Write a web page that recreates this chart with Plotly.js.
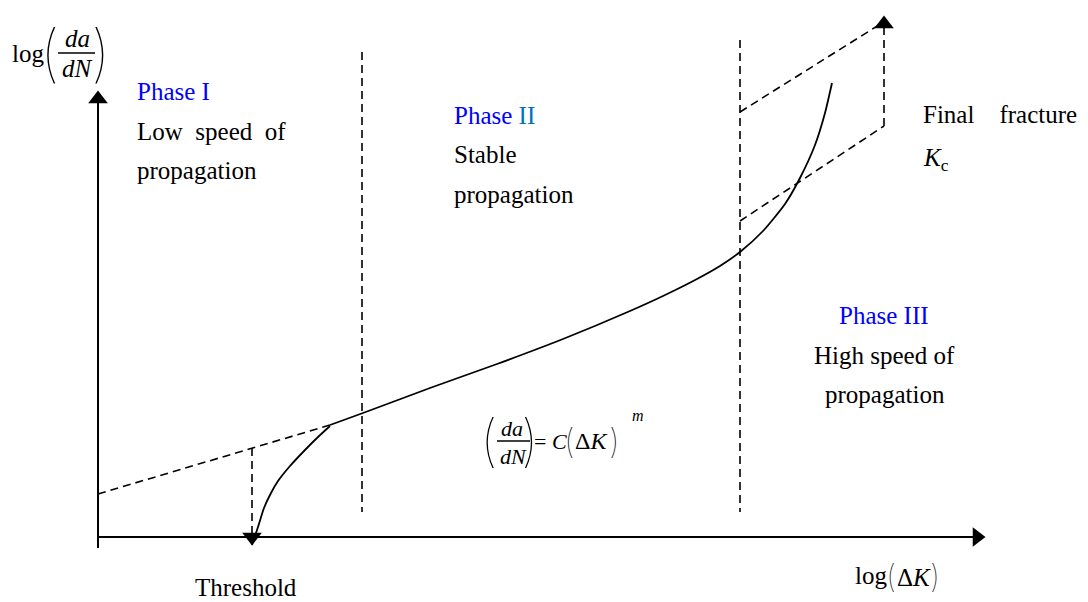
<!DOCTYPE html>
<html>
<head>
<meta charset="utf-8">
<script src="https://cdn.plot.ly/plotly-3.0.1.min.js"></script>
<style>
  html, body { margin: 0; padding: 0; background: #fff; }
  #myPlot { width: 1088px; height: 602px; }
</style>
</head>
<body>
<div id="myPlot"></div>
<script>
// diagram units: x to the right, y downwards (same scale as the picture)
const phase1X = [252, 258, 264, 271, 278, 290, 305, 318, 330];
const phase1Y = [545, 527, 508, 493, 481, 466, 450, 437, 426];

const curveX = [330, 363, 430, 497, 563, 630, 663, 697, 720, 740, 763, 785, 800, 815, 825, 832];
const curveY = [425, 413, 388, 364, 339, 311, 296, 279, 266, 252, 231, 204, 178, 145, 113, 83];

const extendX = [98, 330];
const extendY = [494, 425];

const thresholdX = [252, 252];
const thresholdY = [448, 535];

const border1X = [362, 362];
const border1Y = [52, 512];
const border2X = [740, 740];
const border2Y = [40, 512];

const kcTopX = [740, 882];
const kcTopY = [112, 23];
const kcSideX = [884, 884];
const kcSideY = [126, 27];
const kcLowX = [740, 884];
const kcLowY = [221, 126];

const yAxisX = [98, 98];
const yAxisY = [548, 102];
const xAxisX = [98, 974];
const xAxisY = [537, 537];

const arrowX = [98, 977, 252, 884];
const arrowY = [99, 537, 537, 24];
const arrowSym = ["triangle-up", "triangle-right", "triangle-down", "triangle-up"];

const serif = "Liberation Serif, Times New Roman, serif";
const thin = "Inter, Lato, Noto Sans, sans-serif";
const dash = "8px,5px";

function line(x, y, opts) {
  return {
    x: x, y: y, type: "scatter", mode: "lines", hoverinfo: "skip",
    line: {color: "black", width: opts.width || 2, dash: opts.dash || "solid",
           shape: opts.shape || "linear", smoothing: 0.6}
  };
}

const data = [
  line(yAxisX, yAxisY, {width: 2}),
  line(xAxisX, xAxisY, {width: 2}),
  line(extendX, extendY, {width: 1.6, dash: dash}),
  line(thresholdX, thresholdY, {width: 1.6, dash: dash}),
  line(border1X, border1Y, {width: 1.6, dash: dash}),
  line(border2X, border2Y, {width: 1.6, dash: dash}),
  line(kcTopX, kcTopY, {width: 1.6, dash: dash}),
  line(kcSideX, kcSideY, {width: 1.6, dash: dash}),
  line(kcLowX, kcLowY, {width: 1.6, dash: dash}),
  line(phase1X, phase1Y, {width: 1.8, shape: "spline"}),
  line(curveX, curveY, {width: 1.8, shape: "spline"}),
  {
    x: arrowX, y: arrowY, type: "scatter", mode: "markers", hoverinfo: "skip",
    marker: {symbol: arrowSym, size: 17, color: "black", line: {width: 0}}
  }
];

function txt(text, x, y, opts) {
  opts = opts || {};
  return {
    text: text, x: x, y: y, xref: "x", yref: "y", showarrow: false,
    xanchor: opts.xanchor || "left", yanchor: "middle", borderpad: 0,
    font: {family: opts.family || serif, size: opts.size || 25,
           color: opts.color || "black", weight: opts.weight || "normal"}
  };
}

// tall thin brackets
function paren(ch, x, y, size) {
  return txt(ch, x, y, {xanchor: "center", size: size, family: thin, weight: 100});
}

const blue = "#0000FF";

const annotations = [
  // y axis label log(da/dN)
  txt("log", 11, 53),
  paren("(", 50, 52, 62),
  txt("<i>da</i>", 77, 38, {xanchor: "center"}),
  txt("<i>dN</i>", 77, 68, {xanchor: "center"}),
  paren(")", 101, 52, 62),

  txt("Phase I", 136, 91, {color: blue}),
  txt("Low\u00a0\u00a0speed\u00a0\u00a0of", 136, 131),
  txt("propagation", 136, 170),

  txt("Phase <span style='color:#0070C0'>II</span>", 453, 115, {color: blue}),
  txt("Stable", 453, 154),
  txt("propagation", 453, 194),

  txt("Final\u00a0\u00a0\u00a0\u00a0fracture", 922, 114),
  txt("<i>K</i><sub>c</sub>", 922, 159),

  txt("Phase III", 884, 315, {xanchor: "center", color: blue}),
  txt("High speed of", 884, 355, {xanchor: "center"}),
  txt("propagation", 885, 394, {xanchor: "center"}),

  // Paris law
  paren("(", 489, 440, 56),
  txt("<i>da</i>", 512, 428, {xanchor: "center", size: 22}),
  txt("<i>dN</i>", 513, 456, {xanchor: "center", size: 22}),
  paren(")", 530, 440, 56),
  txt("= <i>C</i>", 533, 441, {size: 22}),
  paren("(", 569, 440, 34),
  txt("Δ<i>K</i>", 574, 441, {size: 24}),
  paren(")", 614, 440, 34),
  txt("<i>m</i>", 631, 415, {size: 16}),

  txt("Threshold", 246, 587, {xanchor: "center"}),

  txt("log", 854, 575),
  paren("(", 891, 576, 32),
  txt("Δ<i>K</i>", 896, 577),
  paren(")", 935, 576, 32)
];

const layout = {
  width: 1088, height: 602,
  margin: {l: 0, r: 0, t: 0, b: 0},
  paper_bgcolor: "white", plot_bgcolor: "white",
  showlegend: false,
  xaxis: {range: [0, 1088], visible: false, fixedrange: true},
  yaxis: {range: [602, 0], visible: false, fixedrange: true},
  shapes: [
    {type: "line", xref: "x", yref: "y", x0: 58, x1: 95, y0: 53, y1: 53, line: {color: "black", width: 1.3}},
    {type: "line", xref: "x", yref: "y", x0: 497, x1: 530, y0: 441, y1: 441, line: {color: "black", width: 1.3}}
  ],
  annotations: annotations
};

Plotly.newPlot("myPlot", data, layout, {staticPlot: true});
</script>
</body>
</html>
